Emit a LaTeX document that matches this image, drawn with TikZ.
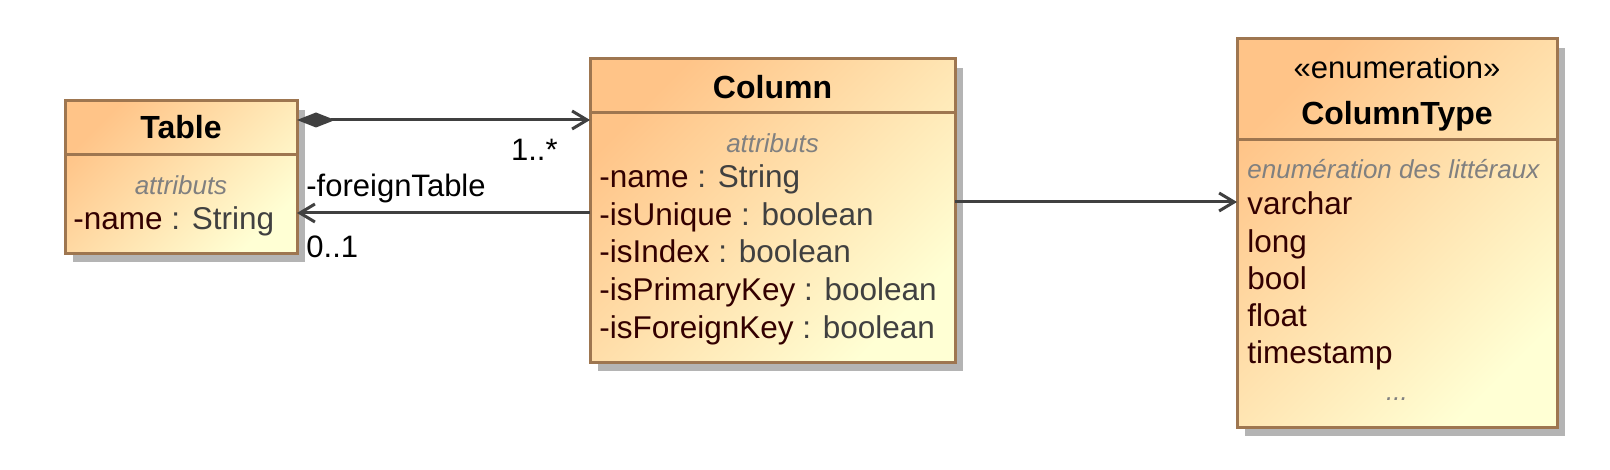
\documentclass[tikz,border=0pt]{standalone}
\usepackage{fontspec}
\setmainfont{Liberation Sans}
\usepackage{tikz}
\usetikzlibrary{calc,arrows.meta,shadows}

\definecolor{boxtop}{RGB}{255,196,136}
\definecolor{boxbot}{RGB}{255,255,212}
\definecolor{boxline}{RGB}{158,118,80}
\definecolor{boxshadow}{RGB}{180,180,180}
\definecolor{attrname}{RGB}{51,0,0}
\definecolor{attrtype}{RGB}{64,64,64}
\definecolor{hintgray}{RGB}{128,128,128}
\definecolor{linkgray}{RGB}{64,64,64}

\begin{document}
\begin{tikzpicture}[x=0.5pt,y=-0.5pt,
  classbox/.style={draw=boxline,line width=1.5pt,top color=boxtop,bottom color=boxbot,shading angle=45,
    inner sep=0pt,outer sep=0pt,
    drop shadow={shadow xshift=4.2pt,shadow yshift=-4.5pt,fill=boxshadow,opacity=1}},
  sepline/.style={draw=boxline,line width=1.5pt},
  classname/.style={font=\fontsize{16}{19}\selectfont\bfseries,anchor=base,inner sep=0pt},
  hint/.style={font=\fontsize{13}{15}\selectfont\itshape,text=hintgray,inner sep=0pt},
  attr/.style={font=\fontsize{15.75}{19}\selectfont,text=attrtype,anchor=base west,inner sep=0pt},
  lit/.style={font=\fontsize{15.75}{19}\selectfont,text=attrname,anchor=base west,inner sep=0pt},
  conn/.style={draw=linkgray,line width=1.5pt},
  role/.style={font=\fontsize{15.5}{18}\selectfont,inner sep=0pt}]
  \useasboundingbox (0,0) rectangle (1610,470);

  % class Table
  \node[classbox,minimum width=116pt,minimum height=76pt] (table) at (181,177) {};
  \draw[sepline] (table.west |- 0,155) -- (table.east |- 0,155);
  \node[classname] (tablename) at (181,139) {Table};
  \node[hint,anchor=base] (tablehint) at (181,195) {attributs};
  \node[attr] (tableattr) at (73,230) {\textcolor{attrname}{-name} : String};

  % class Column
  \node[classbox,minimum width=182.5pt,minimum height=151.5pt] (column) at (772.5,210.5) {};
  \draw[sepline] (column.west |- 0,113) -- (column.east |- 0,113);
  \node[classname] (columnname) at (772.5,99) {Column};
  \node[hint,anchor=base] (columnhint) at (772.5,153) {attributs};
  \foreach \n/\t [count=\i from 0] in {name/String,isUnique/boolean,isIndex/boolean,isPrimaryKey/boolean,isForeignKey/boolean}
    \node[attr] (colattr\i) at (599,{188+37.5*\i}) {\textcolor{attrname}{-\n} : \t};

  % enumeration ColumnType
  \node[classbox,minimum width=160pt,minimum height=194pt] (coltype) at (1397,233) {};
  \draw[sepline] (coltype.west |- 0,140) -- (coltype.east |- 0,140);
  \node[classname,font=\fontsize{15.5}{18}\selectfont] (stereo) at (1397,79) {«enumeration»};
  \node[classname] (coltypename) at (1397,125) {ColumnType};
  \node[hint,anchor=base west] (coltypehint) at (1247,179) {enumération des littéraux};
  \foreach \v [count=\i from 0] in {varchar,long,bool,float,timestamp}
    \node[lit] (lit\i) at (1247,{215+37.2*\i}) {\v};
  \node[hint,anchor=base] (more) at (1397,400) {...};

  % links
  \draw[conn,{Diamond[length=19pt,width=7.5pt]}-{Straight Barb[length=7.5pt,width=9pt]}]
    (table.east |- 0,120) -- (column.west |- 0,120);
  \draw[conn,-{Straight Barb[length=7.5pt,width=9pt]}] (column.west |- 0,213) -- (table.east |- 0,213);
  \draw[conn,-{Straight Barb[length=7.5pt,width=9pt]}] (column.east |- 0,202) -- (coltype.west |- 0,202);
  \node[role,anchor=base east] (mult1) at (558,161) {1..*};
  \node[role,anchor=base west] (rolefk) at (306,197) {-foreignTable};
  \node[role,anchor=base west] (mult2) at (306,257) {0..1};
\end{tikzpicture}
\end{document}
